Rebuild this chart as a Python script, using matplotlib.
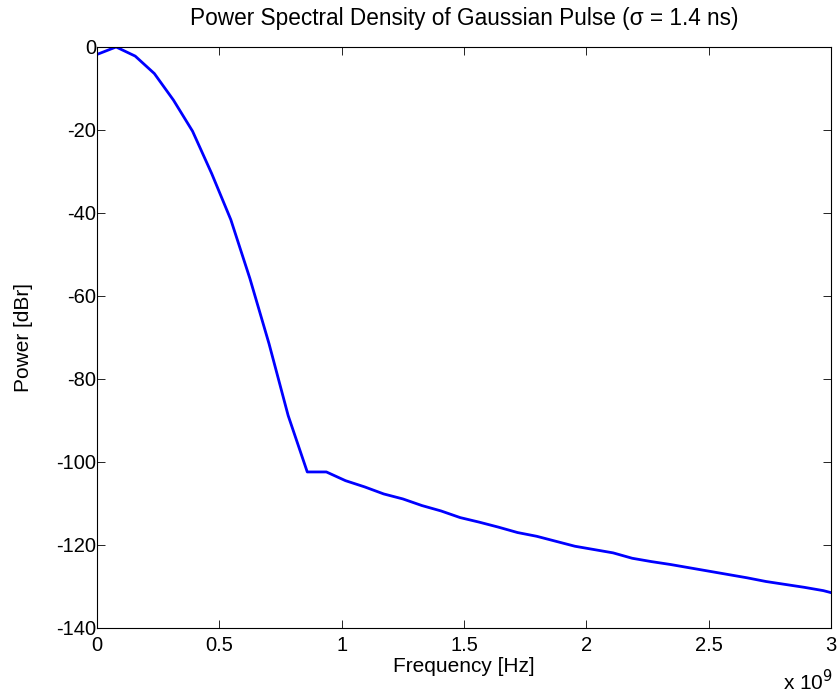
import matplotlib

matplotlib.use("Agg")
import matplotlib.pyplot as plt
from matplotlib.ticker import FuncFormatter

plt.rcParams["font.family"] = ["Liberation Sans", "DejaVu Sans"]
plt.rcParams["axes.unicode_minus"] = False

# frequency bins in GHz (spacing 0.078125 GHz)
FREQ_GHZ = [
    0.0, 0.078125, 0.15625, 0.234375, 0.3125, 0.390625, 0.46875, 0.546875,
    0.625, 0.703125, 0.78125, 0.859375, 0.9375, 1.015625, 1.09375, 1.171875,
    1.25, 1.328125, 1.40625, 1.484375, 1.5625, 1.640625, 1.71875, 1.796875,
    1.875, 1.953125, 2.03125, 2.109375, 2.1875, 2.265625, 2.34375, 2.421875,
    2.5, 2.578125, 2.65625, 2.734375, 2.8125, 2.890625, 2.96875, 3.046875,
]
POWER_DBR = [
    -1.8, 0.0, -2.2, -6.4, -12.8, -20.3, -30.5, -41.6,
    -55.8, -71.5, -88.8, -102.4, -102.4, -104.5, -106.0, -107.7,
    -108.9, -110.5, -111.8, -113.4, -114.5, -115.7, -117.0, -117.9,
    -119.1, -120.3, -121.1, -121.9, -123.2, -124.0, -124.7, -125.5,
    -126.3, -127.1, -127.9, -128.8, -129.5, -130.2, -131.0, -132.2,
]
X_TICKS = [0.0, 0.5, 1.0, 1.5, 2.0, 2.5, 3.0]
Y_TICKS = [-140, -120, -100, -80, -60, -40, -20, 0]

freq_hz = [f * 1e9 for f in FREQ_GHZ]

fig = plt.figure(figsize=(8.39, 6.98), dpi=100)
ax = fig.add_axes([0.1156, 0.1003, 0.8749, 0.8324])

ax.plot(freq_hz, POWER_DBR, color="#0000ff", linewidth=2.0)

ax.set_xlim(0, 3e9)
ax.set_ylim(-140, 0)
ax.set_xticks([t * 1e9 for t in X_TICKS])
ax.set_yticks(Y_TICKS)
ax.xaxis.set_major_formatter(FuncFormatter(lambda v, pos: f"{v / 1e9:g}"))
ax.tick_params(direction="in", length=6, width=0.6, top=True, right=True,
               labelsize=14.5, colors="black")
ax.tick_params(axis="x", pad=6)
ax.tick_params(axis="y", pad=0.5)
for spine in ax.spines.values():
    spine.set_linewidth(0.8)

ax.set_xlabel("Frequency [Hz]", fontsize=15, labelpad=1)
ax.set_ylabel("Power [dBr]", fontsize=15, labelpad=17)
ax.set_title("Power Spectral Density of Gaussian Pulse (σ = 1.4 ns)", fontsize=16.3, pad=16)
fig.text(0.933, 0.006, r"x 10$^{9}$", fontsize=15, ha="left", va="bottom")

fig.savefig("out.png", dpi=100)
